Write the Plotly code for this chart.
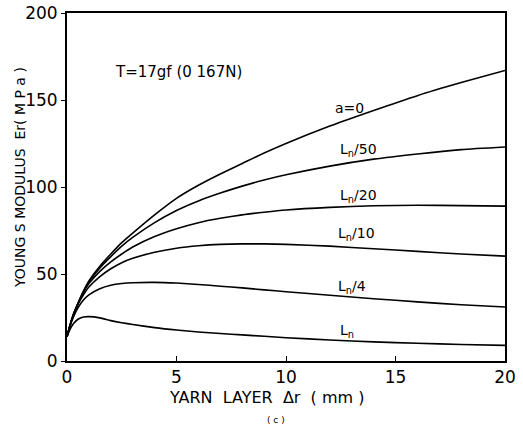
import plotly.graph_objects as go

x_pts = [0, 0.15, 0.3, 0.5, 0.75, 1, 1.5, 2, 2.5, 3, 4, 5, 6, 7, 8, 9, 10, 12, 14, 16, 18, 20]
a0   = [14, 21, 27, 33, 40, 46, 54.5, 61.5, 68, 73.5, 84, 93.5, 101, 107.5, 113.5, 119.5, 125, 135, 144, 152.5, 160, 167]
ln50 = [14, 21, 27, 33, 40, 45.5, 53.5, 60, 66, 71, 79.5, 86.5, 92, 96.5, 100.5, 104, 107, 112, 116, 119, 121.5, 123]
ln20 = [14, 21, 27, 33, 39.5, 44.5, 51.5, 57, 61.5, 65.5, 71.5, 76, 79.5, 82, 84, 85.5, 86.8, 88.3, 89.2, 89.5, 89.3, 89]
ln10 = [14, 21, 26.5, 32.5, 38, 42.5, 48.5, 53, 56.5, 59, 62.5, 64.8, 66.2, 67, 67.3, 67.3, 67, 66, 64.5, 63, 61.5, 60.3]
ln4  = [14, 20.5, 25.5, 30.5, 35, 38, 41.5, 43.5, 44.5, 45, 45.2, 44.8, 44, 43, 42, 40.9, 39.8, 37.8, 35.8, 34, 32.3, 31]
ln   = [14, 18.5, 21.5, 24, 25.3, 25.5, 24.8, 23.2, 22, 21, 19.2, 17.8, 16.7, 15.8, 15, 14.2, 13.4, 12.1, 11, 10.2, 9.5, 9]

series = [
    ("a=0", a0, 12.9, 145.5),
    ("L<sub>n</sub>/50", ln50, 13.3, 121.5),
    ("L<sub>n</sub>/20", ln20, 13.3, 95),
    ("L<sub>n</sub>/10", ln10, 13.2, 73),
    ("L<sub>n</sub>/4", ln4, 13.0, 42.5),
    ("L<sub>n</sub>", ln, 12.8, 17.5),
]

x_ticks = [0, 5, 10, 15, 20]
y_ticks = [0, 50, 100, 150, 200]

FONT = "DejaVu Sans"
fig = go.Figure()
for name, ys, lx, ly in series:
    fig.add_trace(go.Scatter(x=x_pts, y=ys, mode="lines", name=name,
                             line=dict(color="black", width=1.6, shape="spline", smoothing=0.6),
                             showlegend=False, hoverinfo="skip"))
    fig.add_annotation(x=lx, y=ly, text=name, showarrow=False,
                       font=dict(family=FONT, size=14, color="black"))

fig.add_annotation(x=5.1, y=166, text="T=17gf (0 167N)", showarrow=False,
                   font=dict(family=FONT, size=15, color="black"))
fig.add_annotation(x=(266 - 67) / 438, xref="paper", y=-(397 - 361) / 348, yref="paper",
                   xanchor="center", yanchor="middle",
                   text="YARN  LAYER  Δr  ( mm )", showarrow=False,
                   font=dict(family=FONT, size=16, color="black"))
fig.add_annotation(x=-(67 - 20) / 438, xref="paper", y=(361 - 178) / 348, yref="paper",
                   xanchor="center", yanchor="middle",
                   text="YOUNG S MODULUS  Er( M P a )", textangle=-90, showarrow=False,
                   font=dict(family=FONT, size=14, color="black"))
fig.add_annotation(x=(276 - 67) / 438, xref="paper", y=-(420 - 361) / 348, yref="paper",
                   xanchor="center", yanchor="middle",
                   text="( c )", showarrow=False,
                   font=dict(family=FONT, size=9, color="black"))

fig.update_layout(
    width=523, height=428,
    margin=dict(l=67, r=18, t=13, b=67),
    paper_bgcolor="white", plot_bgcolor="white",
    font=dict(family=FONT, color="black"),
    xaxis=dict(range=[0, 20], tickvals=x_ticks, ticktext=[str(v) for v in x_ticks],
               showgrid=False, zeroline=False, showline=True, linecolor="black",
               linewidth=2, mirror=True, ticks="inside", ticklen=5, tickcolor="black",
               tickfont=dict(family=FONT, size=17), automargin=False),
    yaxis=dict(range=[0, 200], tickvals=y_ticks, ticktext=[str(v) for v in y_ticks],
               showgrid=False, zeroline=False, showline=True, linecolor="black",
               linewidth=2, mirror=True, ticks="outside", ticklen=4, tickcolor="black",
               tickfont=dict(family=FONT, size=17), automargin=False),
)

fig.write_html("out.html")
